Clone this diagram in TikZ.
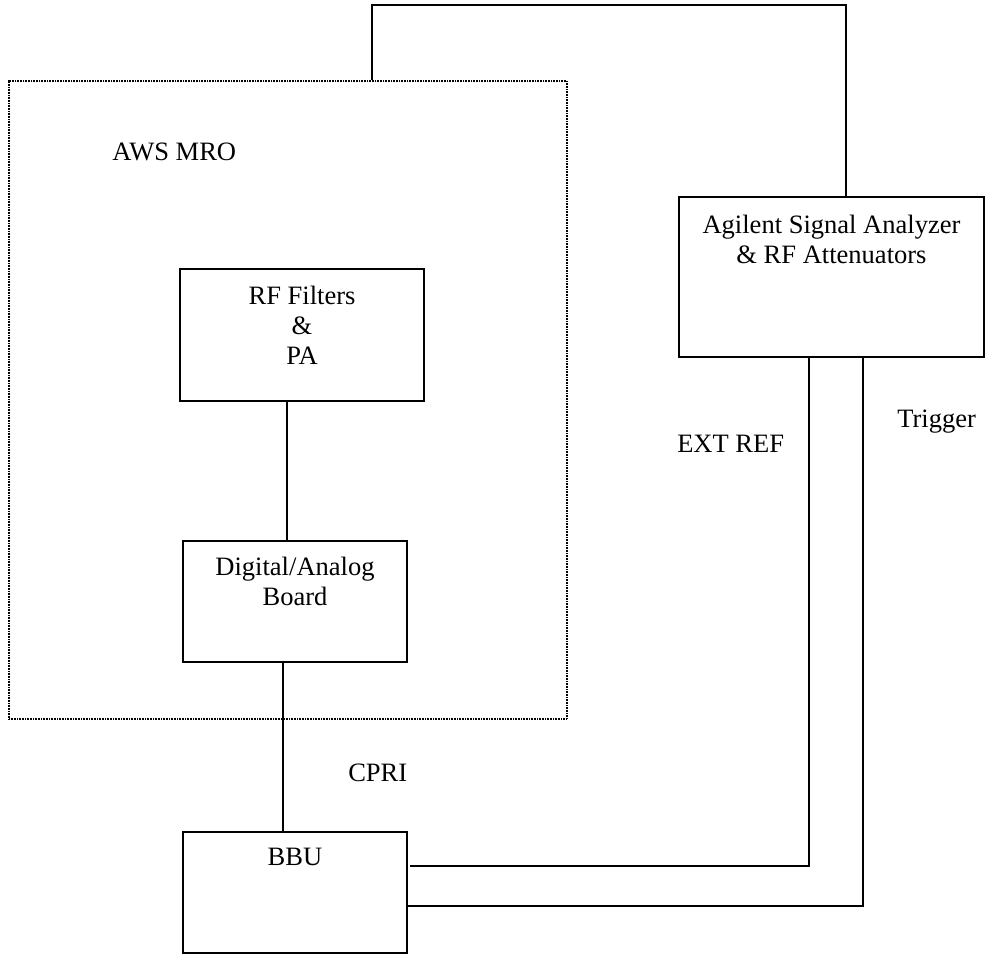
\documentclass[tikz,border=0pt]{standalone}
\usepackage{fontspec}
\setmainfont{Liberation Serif}
\begin{document}
\begin{tikzpicture}[x=0.75pt,y=-0.75pt,
  box/.style={draw,line width=1.1pt,rectangle,inner sep=0pt},
  dotbox/.style={draw,line width=0.9pt,dash pattern=on 0.6pt off 0.6pt,rectangle,inner sep=0pt},
  txt/.style={inner sep=0pt,align=center,font=\fontsize{19.9pt}{22.5pt}\selectfont},
  lbl/.style={inner sep=0pt,font=\fontsize{19.9pt}{22.5pt}\selectfont},
  wire/.style={line width=1.1pt}]
\useasboundingbox (0,0) rectangle (985,955);
% boxes
\node[dotbox,minimum width=418.5pt,minimum height=478.5pt] (mro) at (288,400) {};
\node[box,minimum width=183pt,minimum height=99pt] (rf) at (302,335) {};
\node[box,minimum width=168pt,minimum height=90.75pt] (dab) at (295,601.5) {};
\node[box,minimum width=168pt,minimum height=90.75pt] (bbu) at (295,892.5) {};
\node[box,minimum width=228.75pt,minimum height=120pt] (ag) at (831.5,277) {};
% box texts
\node[txt,anchor=north] (rft) at ([yshift=-13.5pt]rf.north) {RF Filters\\\&\\PA};
\node[txt,anchor=north] (dabt) at ([yshift=-12.75pt]dab.north) {Digital/Analog\\Board};
\node[txt,anchor=north] (bbut) at ([yshift=-12.75pt]bbu.north) {BBU};
\node[txt,anchor=north] (agt) at ([yshift=-14pt]ag.north) {Agilent Signal Analyzer\\\& RF Attenuators};
% labels
\node[lbl,anchor=base west] (mrol) at (112,161) {AWS MRO};
\node[lbl,anchor=base west] (cpri) at (348,781) {CPRI};
\node[lbl,anchor=base west] (ext) at (677,452) {EXT REF};
\node[lbl,anchor=base west] (trig) at (897,427) {Trigger};
% connectors
\coordinate (up) at (372,5);
\coordinate (upr) at (846,5);
\coordinate (e) at (809,866);
\coordinate (tg) at (863,906);
\draw[wire] (rf.south -| 287,0) -- (dab.north -| 287,0);
\draw[wire] (dab.south -| 283,0) -- (bbu.north -| 283,0);
\draw[wire] (mro.north -| up) -- (up) -- (upr) -- (ag.north -| upr);
\draw[wire] (ag.south -| e) -- (e) -- ([xshift=2pt]bbu.east |- e);
\draw[wire] (ag.south -| tg) -- (tg) -- (bbu.east |- tg);
\end{tikzpicture}
\end{document}
